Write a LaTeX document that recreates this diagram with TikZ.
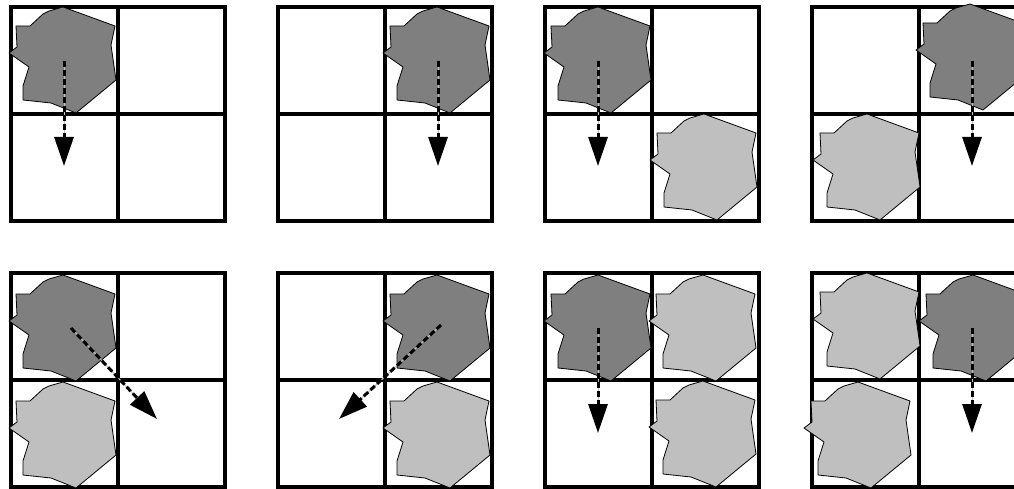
\documentclass[tikz,border=0pt]{standalone}
\usepackage{tikz}
\usetikzlibrary{arrows.meta}
\definecolor{darkblob}{HTML}{7F7F7F}
\definecolor{lightblob}{HTML}{BFBFBF}
\newcommand{\gridpanel}[2]{\draw[gridline,shift={(#1,#2)}] (0,0) rectangle (214,214) (107,0) -- (107,214) (0,107) -- (214,107);}
\newcommand{\blobat}[3]{\filldraw[blobline,fill=#1,shift={(#2,#3)}] (52,0) -- (104,19) -- (100,38) -- (105,73) -- (65,106) -- (40,96) -- (12,93) -- (12,79) -- (18,60) -- (-2,46) -- (6,40) -- (5,19) -- (19,19) -- (32,7) -- (38,4) -- cycle;}

\begin{document}
\begin{tikzpicture}[x=1pt,y=-1pt,gridline/.style={line width=3.5pt,line cap=rect},blobline/.style={draw=black,line width=0.8pt,line join=round},mvback/.style={draw=black!25,line width=1pt,shorten >=24pt},mvarrow/.style={-{Triangle[length=29pt,width=19pt]},line width=3pt,dash pattern=on 6pt off 3pt}]
\clip (0,0) rectangle (1014,489);
\fill[white] (0,0) rectangle (1014,489);
\gridpanel{11}{7}
\gridpanel{278}{7}
\gridpanel{545}{7}
\gridpanel{812}{7}
\gridpanel{11}{273}
\gridpanel{278}{273}
\gridpanel{545}{273}
\gridpanel{812}{273}
\blobat{darkblob}{11}{7}
\blobat{darkblob}{385}{7}
\blobat{darkblob}{546}{7}
\blobat{lightblob}{652}{114}
\blobat{darkblob}{918}{4}
\blobat{lightblob}{815}{114}
\blobat{darkblob}{11}{275}
\blobat{lightblob}{11}{382}
\blobat{darkblob}{385}{275}
\blobat{lightblob}{385}{382}
\blobat{darkblob}{546}{275}
\blobat{lightblob}{651}{275}
\blobat{lightblob}{651}{381}
\blobat{lightblob}{815}{273}
\blobat{darkblob}{921}{275}
\blobat{lightblob}{806}{382}
\coordinate (s1) at (64,61);
\coordinate (e1) at (64,166);
\coordinate (s2) at (438,61);
\coordinate (e2) at (438,166);
\coordinate (s3) at (598,61);
\coordinate (e3) at (598,166);
\coordinate (s4) at (972,61);
\coordinate (e4) at (972,166);
\coordinate (s5) at (71,328);
\coordinate (e5) at (157,419);
\coordinate (s6) at (441,325);
\coordinate (e6) at (339,419);
\coordinate (s7) at (598,328);
\coordinate (e7) at (598,433);
\coordinate (s8) at (972,328);
\coordinate (e8) at (972,433);
\foreach \i in {1,...,8}{
\draw[mvback] (s\i) -- (e\i);
\draw[mvarrow] (s\i) -- (e\i);
}
\end{tikzpicture}
\end{document}
